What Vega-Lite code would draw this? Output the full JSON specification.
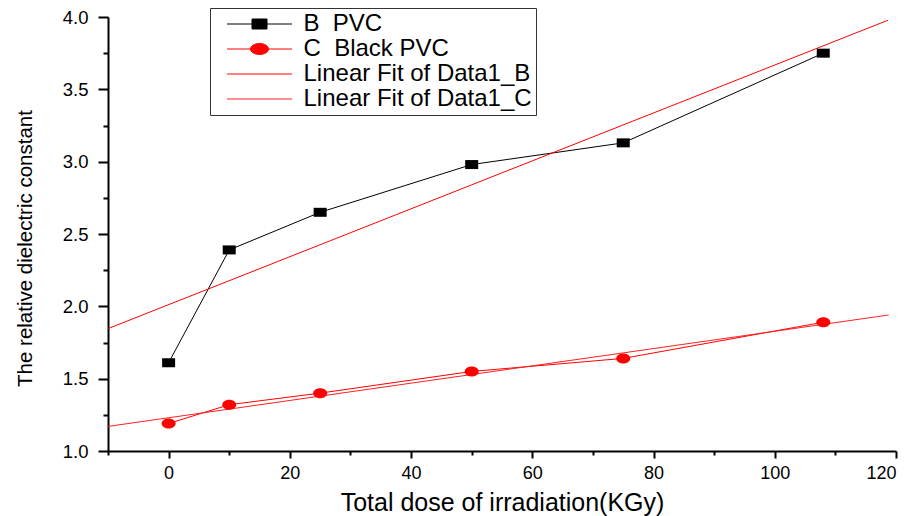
{
  "$schema": "https://vega.github.io/schema/vega-lite/v6.json",
  "width": 788,
  "height": 434,
  "autosize": "none",
  "padding": {"left": 108, "top": 17, "right": 21, "bottom": 65},
  "background": "white",
  "config": {
    "view": {"stroke": null},
    "font": "Liberation Sans",
    "axis": {"domainColor": "black", "domainWidth": 2, "tickColor": "black", "tickWidth": 2, "grid": false, "labelColor": "black", "titleColor": "black", "labelFont": "Liberation Sans", "titleFont": "Liberation Sans", "titleFontWeight": "normal"}
  },
  "data": {
    "values": [
      {"series": "B\u00a0 PVC", "kind": "data", "x": 0, "y": 1.61},
      {"series": "B\u00a0 PVC", "kind": "data", "x": 10, "y": 2.39},
      {"series": "B\u00a0 PVC", "kind": "data", "x": 25, "y": 2.65},
      {"series": "B\u00a0 PVC", "kind": "data", "x": 50, "y": 2.98},
      {"series": "B\u00a0 PVC", "kind": "data", "x": 75, "y": 3.13},
      {"series": "B\u00a0 PVC", "kind": "data", "x": 108, "y": 3.75},
      {"series": "C\u00a0 Black PVC", "kind": "data", "x": 0, "y": 1.19},
      {"series": "C\u00a0 Black PVC", "kind": "data", "x": 10, "y": 1.32},
      {"series": "C\u00a0 Black PVC", "kind": "data", "x": 25, "y": 1.40},
      {"series": "C\u00a0 Black PVC", "kind": "data", "x": 50, "y": 1.55},
      {"series": "C\u00a0 Black PVC", "kind": "data", "x": 75, "y": 1.64},
      {"series": "C\u00a0 Black PVC", "kind": "data", "x": 108, "y": 1.89},
      {"series": "Linear Fit of Data1_B", "kind": "fit", "x": -10, "y": 1.846},
      {"series": "Linear Fit of Data1_B", "kind": "fit", "x": 118.7, "y": 3.978},
      {"series": "Linear Fit of Data1_C", "kind": "fit", "x": -10, "y": 1.17},
      {"series": "Linear Fit of Data1_C", "kind": "fit", "x": 118.8, "y": 1.94}
    ]
  },
  "encoding": {
    "x": {
      "field": "x", "type": "quantitative",
      "scale": {"domain": [-10, 120], "nice": false, "zero": false},
      "axis": {
        "title": "Total dose of irradiation(KGy)",
        "titleFontSize": 25, "titlePadding": 8,
        "values": [-10, 0, 10, 20, 30, 40, 50, 60, 70, 80, 90, 100, 110, 120],
        "labelExpr": "datum.value % 20 === 0 ? datum.value : ''",
        "labelFontSize": 18, "labelPadding": 6,
        "tickSize": {"condition": {"test": "datum.value % 20 === 0", "value": 7}, "value": 4}
      }
    },
    "y": {
      "field": "y", "type": "quantitative",
      "scale": {"domain": [1, 4], "nice": false, "zero": false},
      "axis": {
        "title": "The relative dielectric constant",
        "titleFontSize": 20.5,
        "titleX": -83, "titleY": 231, "titleAlign": "center", "titleBaseline": "middle",
        "values": [1, 1.25, 1.5, 1.75, 2, 2.25, 2.5, 2.75, 3, 3.25, 3.5, 3.75, 4],
        "labelExpr": "(datum.value * 2) % 1 === 0 ? format(datum.value, '.1f') : ''",
        "labelFontSize": 18.5, "labelPadding": 10,
        "tickSize": {"condition": {"test": "(datum.value * 2) % 1 === 0", "value": 10}, "value": 5}
      }
    },
    "color": {
      "field": "series", "type": "nominal",
      "scale": {
        "domain": ["B\u00a0 PVC", "C\u00a0 Black PVC", "Linear Fit of Data1_B", "Linear Fit of Data1_C"],
        "range": ["black", "red", "red", "#ff2020"]
      },
      "legend": {
        "title": null,
        "orient": "none",
        "legendX": 102,
        "legendY": -9,
        "strokeColor": "#333",
        "padding": 4,
        "labelFontSize": 24,
        "labelColor": "black",
        "labelLimit": 0,
        "labelOffset": 32,
        "symbolOffset": 33.5,
        "rowPadding": 1,
        "symbolSize": 400,
        "symbolStrokeWidth": 1,
        "symbolOpacity": 1,
        "encode": {
          "labels": {
            "update": {
              "text": {"signal": "datum.label + '\u00a0\u00a0\u00a0\u00a0\u00a0\u00a0\u00a0\u00a0'"}
            }
          },
          "symbols": {
            "update": {
              "shape": {"signal": "datum.value === 'B\u00a0 PVC' ? 'M-3.25,0H-0.75M0.75,0H3.25M-0.75,-0.5H0.75V0.5H-0.75Z' : datum.value === 'C\u00a0 Black PVC' ? 'M-3.25,0H-0.9M0.9,0H3.25M-0.9,0A0.9,0.55 0 1,0 0.9,0A0.9,0.55 0 1,0 -0.9,0Z' : 'M-3.25,0H3.25'"},
              "fill": {"signal": "datum.value === 'B\u00a0 PVC' ? 'black' : datum.value === 'C\u00a0 Black PVC' ? 'red' : 'transparent'"},
              "stroke": {"signal": "datum.value === 'B\u00a0 PVC' ? 'black' : datum.value === 'Linear Fit of Data1_B' ? '#f22' : '#f77'"},
              "size": {"value": 400},
              "strokeWidth": {"value": 1},
              "opacity": {"value": 1}
            }
          }
        }
      }
    }
  },
  "layer": [
    {
      "mark": {"type": "line", "strokeWidth": 1},
      "encoding": {
        "detail": {"field": "series"}
      }
    },
    {
      "transform": [{"filter": "datum.series === 'B\u00a0 PVC'"}],
      "mark": {"type": "point", "filled": true, "opacity": 1, "shape": "M-1.3,-0.9H1.3V0.9H-1.3Z", "size": 100}
    },
    {
      "transform": [{"filter": "datum.series === 'C\u00a0 Black PVC'"}],
      "mark": {"type": "point", "filled": true, "opacity": 1, "shape": "M-1.4,0A1.4,1 0 1,0 1.4,0A1.4,1 0 1,0 -1.4,0Z", "size": 100}
    }
  ]
}
